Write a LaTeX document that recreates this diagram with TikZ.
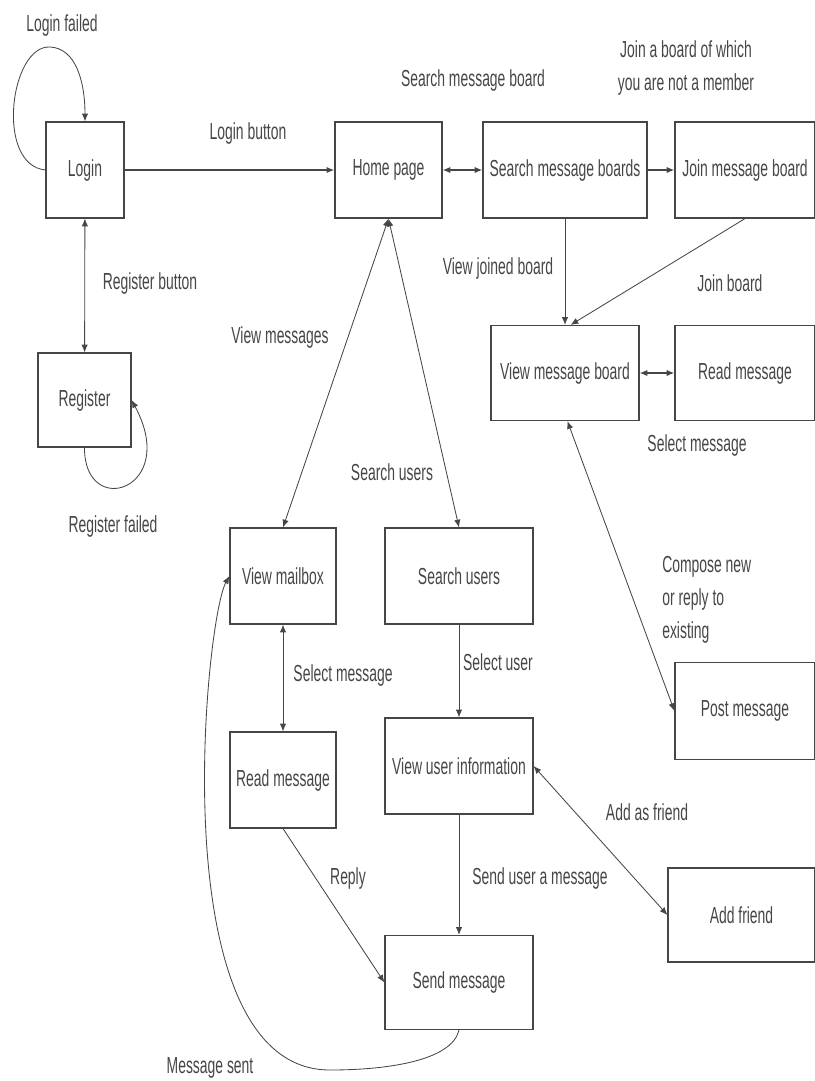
\documentclass[tikz,border=0pt]{standalone}
\usepackage{fontspec}
\setmainfont{Liberation Sans}[FakeStretch=0.6]
\usepackage{tikz}
\usetikzlibrary{arrows.meta}
\definecolor{FlowGray}{RGB}{70,70,70}

\begin{document}
\begin{tikzpicture}[x=0.025cm, y=-0.025cm,
            pg/.style={rectangle, draw=FlowGray, line width=0.8pt, minimum width=3.7cm,
                       minimum height=2.4cm, inner sep=0pt, align=center,
                       font=\fontsize{16.5}{23.5}\selectfont, text=FlowGray},
            lbl/.style={font=\fontsize{16.5}{23.5}\selectfont, text=FlowGray, inner sep=0pt},
            arr/.style={-{Latex[length=5.5pt, width=4.5pt]}, draw=FlowGray, line width=0.6pt},
            darr/.style={{Latex[length=5.5pt, width=4.5pt]}-{Latex[length=5.5pt, width=4.5pt]},
                         draw=FlowGray, line width=0.6pt}
          ]
          \useasboundingbox (0,0) rectangle (815,1081);

          % pages
          \node[pg, minimum width=1.95cm]  (login)    at (85,170)    {Login};
          \node[pg, minimum width=2.675cm] (home)     at (388.5,170) {Home page};
          \node[pg, minimum width=4.1cm]   (searchb)  at (565,170)   {Search message boards};
          \node[pg, minimum width=3.5cm]   (join)     at (745,170)   {Join message board};
          \node[pg, minimum width=2.325cm, minimum height=2.35cm]
                (register) at (84.5,400) {Register};
          \node[pg, minimum height=2.375cm] (viewb)   at (565,373)   {View message board};
          \node[pg, minimum width=3.5cm, minimum height=2.375cm]
                (readb)    at (745,373)  {Read message};
          \node[pg, minimum width=2.65cm]  (mailbox)  at (283,576)   {View mailbox};
          \node[pg]                        (searchu)  at (459,576)   {Search users};
          \node[pg, minimum width=2.65cm]  (readm)    at (283,780)   {Read message};
          \node[pg]                        (userinfo) at (459,766)   {View user information};
          \node[pg, minimum width=3.5cm, minimum height=2.425cm]
                (post)     at (745,711)  {Post message};
          \node[pg, minimum width=3.675cm, minimum height=2.35cm]
                (friend)   at (741.5,915) {Add friend};
          \node[pg, minimum height=2.35cm] (send)     at (459,982.5) {Send message};

          % transitions
          \draw[arr] (login.west) .. controls (-5,165) and (10,45) .. (50,47)
                     .. controls (75,48) and (85,80) .. (login.north);
          \draw[arr, line width=1.1pt] (login) -- (home);
          \draw[darr] (login) -- (register);
          \draw[arr] (register.south) .. controls (84,520) and (180,490) .. (register.east);
          \draw[darr, line width=1pt] (home) -- (searchb);
          \draw[arr, line width=1pt] (searchb) -- (join);
          \draw[arr] (searchb) -- (viewb);
          \draw[arr] (join.south) -- ([xshift=0.14cm]viewb.north);
          \draw[darr, line width=1pt] (viewb) -- (readb);
          \draw[darr] ([xshift=0.06cm]viewb.south) -- (post.west);
          \draw[darr] (home.south) -- (mailbox.north);
          \draw[darr] (home.south) -- (searchu.north);
          \draw[darr] (mailbox) -- (readm);
          \draw[arr] (searchu) -- (userinfo);
          \draw[darr] (userinfo.east) -- (friend.west);
          \draw[arr] (userinfo) -- (send);
          \draw[arr] (readm.south) -- (send.west);
          \draw[arr] (send.south) .. controls (452,1060) and (390,1070) .. (330,1070)
                     .. controls (160,1070) and (205,620) .. (mailbox.west);

          % labels
          \node[lbl] (lfail)   at (62,25)    {Login failed};
          \node[lbl] (lbtn)    at (248,133)  {Login button};
          \node[lbl] (rbtn)    at (150,283)  {Register button};
          \node[lbl] (rfail)   at (113,526)  {Register failed};
          \node[lbl] (smb)     at (473,80)   {Search message board};
          \node[lbl, align=center] (jnot) at (686,68)
                {Join a board of which\\you are not a member};
          \node[lbl] (vjb)     at (498,268)  {View joined board};
          \node[lbl] (jb)      at (730,283)  {Join board};
          \node[lbl] (selb)    at (697,445)  {Select message};
          \node[lbl] (vmsg)    at (280,337)  {View messages};
          \node[lbl] (susr)    at (392,472)  {Search users};
          \node[lbl] (selm)    at (343,675)  {Select message};
          \node[lbl] (selu)    at (498,662)  {Select user};
          \node[lbl, anchor=west, align=left] (comp) at (662,600)
                {Compose new\\or reply to\\existing};
          \node[lbl] (addf)    at (647,812)  {Add as friend};
          \node[lbl] (sendu)   at (540,878)  {Send user a message};
          \node[lbl] (reply)   at (348,878)  {Reply};
          \node[lbl] (msent)   at (210,1068) {Message sent};
        \end{tikzpicture}
\end{document}
